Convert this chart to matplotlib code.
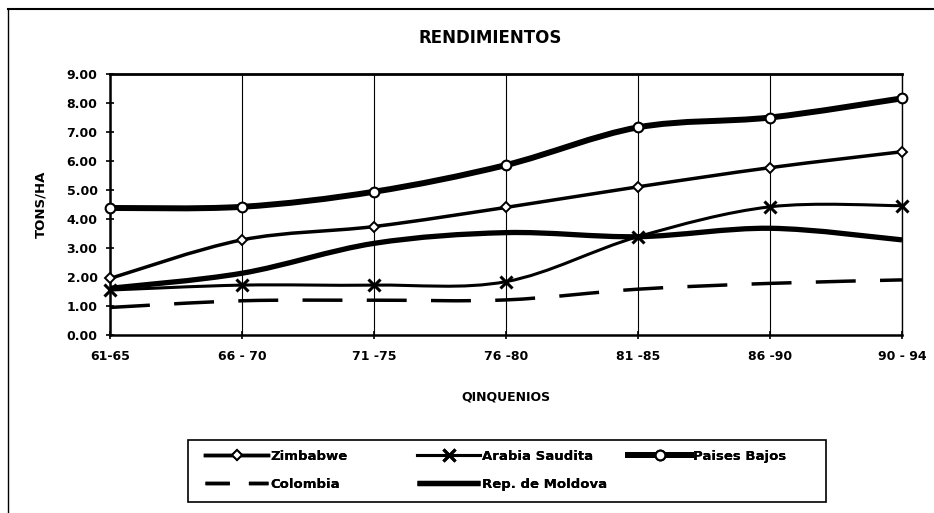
import numpy as np
import matplotlib
matplotlib.use("Agg")
import matplotlib.pyplot as plt
from matplotlib.path import Path
from matplotlib.patches import PathPatch, Rectangle
from matplotlib.lines import Line2D

# ---- data ----
categories = ["61-65", "66 - 70", "71 -75", "76 -80", "81 -85", "86 -90", "90 - 94"]
zimbabwe = [1.95, 3.28, 3.74, 4.40, 5.11, 5.77, 6.32]
arabia_saudita = [1.55, 1.72, 1.72, 1.84, 3.39, 4.42, 4.46]
paises_bajos = [4.38, 4.42, 4.94, 5.86, 7.16, 7.50, 8.16]
colombia = [0.95, 1.18, 1.20, 1.21, 1.58, 1.78, 1.90]
moldova = [1.61, 2.13, 3.16, 3.53, 3.39, 3.68, 3.28]
yticks = [0, 1, 2, 3, 4, 5, 6, 7, 8, 9]

W, H = 934, 513
fig = plt.figure(figsize=(W / 100, H / 100), dpi=100)
FONT = "DejaVu Sans"
plt.rcParams["font.family"] = FONT

ax = fig.add_axes([110 / W, 1 - 335 / H, (902 - 110) / W, (335 - 74) / H])
x = np.arange(len(categories))


def smooth_path(xs, ys):
    pts = np.column_stack([xs, ys]).astype(float)
    n = len(pts)
    verts = [pts[0]]
    codes = [Path.MOVETO]
    for i in range(n - 1):
        p0 = pts[i - 1] if i > 0 else pts[i]
        p1 = pts[i]
        p2 = pts[i + 1]
        p3 = pts[i + 2] if i + 2 < n else pts[i + 1]
        c1 = p1 + (p2 - p0) / 6.0
        c2 = p2 - (p3 - p1) / 6.0
        verts += [c1, c2, p2]
        codes += [Path.CURVE4] * 3
    return Path(verts, codes)


series = [
    ("Zimbabwe", zimbabwe, dict(lw=2.5, ls="-"), dict(marker="D", ms=5.5, mfc="white", mec="black", mew=1.4)),
    ("Arabia Saudita", arabia_saudita, dict(lw=2.2, ls="-"), dict(marker="x", ms=8, mec="black", mew=2.2)),
    ("Paises Bajos", paises_bajos, dict(lw=4.3, ls="-"), dict(marker="o", ms=7, mfc="white", mec="black", mew=1.5)),
    ("Colombia", colombia, dict(lw=2.5, ls=(0, (11.5, 7))), None),
    ("Rep. de Moldova", moldova, dict(lw=3.8, ls="-"), None),
]

handles = {}
for i, (name, vals, lstyle, mstyle) in enumerate(series):
    patch = PathPatch(smooth_path(x, vals), fill=False, edgecolor="black",
                      linewidth=lstyle["lw"], linestyle=lstyle["ls"],
                      capstyle="butt", joinstyle="round", zorder=3 + i)
    ax.add_patch(patch)
    if mstyle is not None:
        ax.plot(x, vals, linestyle="none", color="black", zorder=10 + i, clip_on=False, **mstyle)
        handles[name] = Line2D([], [], color="black", lw=lstyle["lw"], **mstyle)
    else:
        ls = (0, (7, 5.5)) if name == "Colombia" else "-"
        handles[name] = Line2D([], [], color="black", lw=lstyle["lw"], linestyle=ls,
                               dash_capstyle="butt", solid_capstyle="butt")

ax.set_xlim(0, len(categories) - 1)
ax.set_ylim(0, 9)
ax.set_xticks(x)
ax.set_xticklabels(categories)
ax.set_yticks(yticks)
ax.set_yticklabels([f"{v:.2f}" for v in yticks])
ax.grid(axis="x", color="black", lw=0.8)
ax.set_axisbelow(True)
for lab in ax.get_xticklabels() + ax.get_yticklabels():
    lab.set_fontweight("bold")
    lab.set_fontsize(9)
ax.tick_params(axis="both", direction="inout", length=6, width=1.2, color="black")
ax.tick_params(axis="x", pad=8)
ax.tick_params(axis="y", pad=6)
ax.spines["left"].set_linewidth(1.8)
ax.spines["bottom"].set_linewidth(1.8)
ax.spines["top"].set_linewidth(2.0)
ax.spines["right"].set_linewidth(1.0)

ax.set_ylabel("TONS/HA", fontsize=9.5, fontweight="bold")
ax.yaxis.set_label_coords(-(110 - 47) / (902 - 110), 0.5)
ax.set_xlabel("QINQUENIOS", fontsize=9, fontweight="bold")
ax.xaxis.set_label_coords(0.5, -(391 - 335) / (335 - 74))

fig.text(490 / W, 1 - 38 / H, "RENDIMIENTOS", ha="center", va="center",
         fontsize=12, fontweight="bold")

# outer frame (left and top edges visible)
fig.add_artist(Line2D([8 / W, 8 / W], [0, 1 - 9 / H], color="black", lw=1.0, transform=fig.transFigure))
fig.add_artist(Line2D([8 / W, 1.0], [1 - 9 / H, 1 - 9 / H], color="black", lw=1.5, transform=fig.transFigure))

# legend frame
fig.add_artist(Rectangle((188 / W, 1 - 502 / H), (826 - 188) / W, (502 - 440) / H,
                         transform=fig.transFigure, fill=False, edgecolor="black", lw=1.2))

cols = [
    (205, ["Zimbabwe", "Colombia"]),
    (417, ["Arabia Saudita", "Rep. de Moldova"]),
    (628, ["Paises Bajos"]),
]
for xpx, names in cols:
    leg = fig.legend([handles[n] for n in names], names, loc="upper left",
                     bbox_to_anchor=(xpx / W, 1 - 450 / H), frameon=False,
                     borderpad=0, borderaxespad=0, handlelength=4.8, handletextpad=0.15,
                     labelspacing=1.1, prop=dict(family=FONT, weight="bold", size=9.5))
    fig.add_artist(leg)

fig.savefig("out.png", dpi=100)
